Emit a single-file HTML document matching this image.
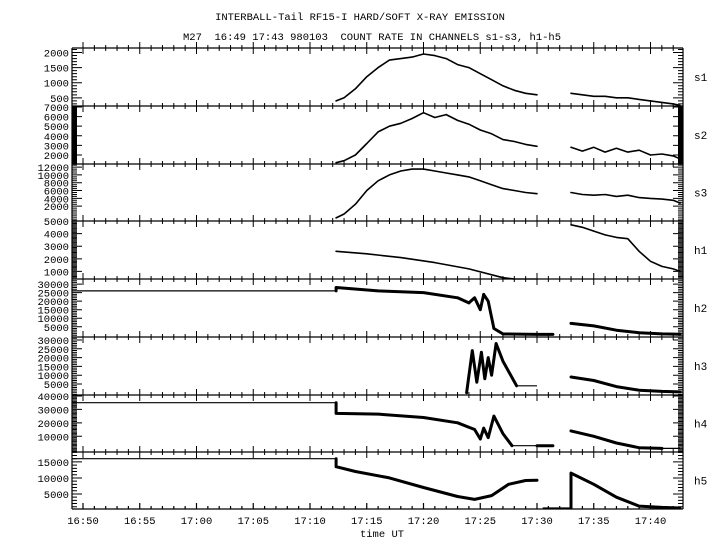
<!DOCTYPE html>
<html><head><meta charset="utf-8">
<style>
html,body{margin:0;padding:0;background:#fff;}
svg{display:block;font-family:"Liberation Mono","DejaVu Sans Mono",monospace;}
</style></head>
<body>
<svg id="chart" width="720" height="550" viewBox="0 0 720 550">
<text x="360" y="20" font-size="10.5" text-anchor="middle">INTERBALL-Tail RF15-I HARD/SOFT X-RAY EMISSION</text>
<text x="372" y="40" font-size="10.5" text-anchor="middle" xml:space="preserve">M27  16:49 17:43 980103  COUNT RATE IN CHANNELS s1-s3, h1-h5</text>
<text x="382" y="537" font-size="10.5" text-anchor="middle">time UT</text>
<g id="plots"></g>
</svg>
<script>
// time in minutes after 16:00
const xTickLabels = ["16:50","16:55","17:00","17:05","17:10","17:15","17:20","17:25","17:30","17:35","17:40"];
const xTickTimes = [50,55,60,65,70,75,80,85,90,95,100];
const channels = ["s1","s2","s3","h1","h2","h3","h4","h5"];
const s1T = [72.3,73,74,75,76,77,78,79,80,81,82,83,84,85,86,87,88,89,90,null,93,94,95,96,97,98,99,100,101,102,102.6];
const s1V = [400,500,800,1200,1500,1750,1800,1850,1950,1900,1800,1600,1500,1300,1100,900,750,650,600,null,650,600,550,550,500,500,450,400,350,300,250];
const s2T = s1T;
const s2V = [1200,1400,2000,3200,4400,5000,5300,5800,6400,5900,6200,5600,5200,4600,4200,3600,3400,3100,2900,null,2800,2400,2800,2300,2700,2300,2500,2000,2100,1900,1600];
const s3T = s1T;
const s3V = [-1000,0,2500,6000,8500,10000,11000,11500,11500,11000,10500,10000,9500,8500,7500,6500,6000,5500,5200,null,5500,5000,4800,5000,4500,4800,4200,4000,3800,3500,2800];
const h1T = [72.3,75,78,81,84,87,88,90,null,93,94,95,96,97,98,99,100,101,102,102.6];
const h1V = [2600,2400,2100,1700,1200,500,300,300,null,4700,4500,4200,3900,3700,3600,2600,1800,1400,1200,1000];
const h2T = [49.04,72.3,72.3,76,80,83,84,84.5,85,85.3,85.7,86.2,87,90,91.4,null,93,95,97,99,101,102.6];
const h2V = [26000,26000,28000,26000,25000,22000,19000,22000,15000,24000,20000,4000,800,500,500,null,7000,5500,3000,1500,800,600];
const h3T = [83.8,84.3,84.7,85.1,85.4,85.7,86,86.4,87,88.2,90,null,93,95,97,99,101,102.6];
const h3V = [0,24000,6000,23000,8000,20000,10000,28000,18000,4000,4000,null,9000,7000,3500,1500,800,500];
const h4T = [49.04,72.3,72.3,76,80,83,84.5,85,85.3,85.7,86.2,87,87.8,90,91.4,null,93,95,97,99,101,102.6];
const h4V = [35000,35000,27000,26500,24000,20000,15000,8000,16000,9000,25000,12000,3000,3000,3000,null,14000,10000,5000,1500,1000,1000];
const h5T = [49.04,72.3,72.3,74,77,80,83,84.5,86,87.5,89,90,null,90.5,93,93,95,97,99,101,102.6];
const h5V = [16000,16000,13500,12000,10000,7000,4200,3300,4500,8000,9200,9300,null,600,600,11500,8000,4000,1200,800,600];
const seriesT = [s1T,s2T,s3T,h1T,h2T,h3T,h4T,h5T];
const seriesV = [s1V,s2V,s3V,h1V,h2V,h3V,h4V,h5V];
const yMin = [230,1060,-1800,400,-1000,-1250,-1700,300];
const yMax = [2150,7100,12800,5000,33000,31700,40700,18100];
const yTicks = [[2000,1500,1000,500],[7000,6000,5000,4000,3000,2000],[12000,10000,8000,6000,4000,2000],[5000,4000,3000,2000,1000],[30000,25000,20000,15000,10000,5000],[30000,25000,20000,15000,10000,5000],[40000,30000,20000,10000],[15000,10000,5000]];
const minorStep = [100,100,500,100,1000,1000,1000,1000];

const L=72, R=683;
const panelTop = [48,106,164,221,279,337,395,452,509];
const strokeW = [1.6,1.6,1.6,1.6,3,3,3,3];
const NS="http://www.w3.org/2000/svg";
const g=document.getElementById('plots');
function xs(t){return 83+(t-50)*11.35;}
function mk(tag,attrs){const e=document.createElementNS(NS,tag);for(const k in attrs)e.setAttribute(k,attrs[k]);return e;}

for(let p=0;p<8;p++){
  const top=panelTop[p], bot=panelTop[p+1];
  const ys=v=>bot-(v-yMin[p])/(yMax[p]-yMin[p])*(bot-top);
  const pg=mk('g',{});
  
  
  g.appendChild(pg);
  const fr=mk('path',{d:`M${L},${top}V${bot}M${R},${top}V${bot}M${L},${top}H${R}`,stroke:'#000','stroke-width':1.2,fill:'none'});
  
  
  pg.appendChild(fr);
  let d='';
  const lo=Math.ceil(yMin[p]/minorStep[p])*minorStep[p];
  for(let v=lo;v<=yMax[p];v+=minorStep[p]){const y=ys(v);if(y<top||y>bot)continue;d+=`M${L},${y}h5M${R},${y}h-5`;}
  for(const v of yTicks[p]){const y=ys(v);if(y<top-1||y>bot)continue;d+=`M${L},${y}h10M${R},${y}h-10`;}
  const tk=mk('path',{d:d,stroke:'#000','stroke-width':1,fill:'none'});
  
  
  pg.appendChild(tk);
  let dx='';
  for(let t=50;t<=102;t++){const x=xs(t);const big=(t%5===0);dx+=`M${x},${top-(big?6:3)}v${big?12:6}`;}
  const xt=mk('path',{d:dx,stroke:'#000','stroke-width':1,fill:'none'});
  
  
  pg.appendChild(xt);
  for(const v of yTicks[p]){
    const y=ys(v); if(y<top-3||y>bot)continue;
    const tx=mk('text',{x:69,y:y+4,'font-size':10.5,'text-anchor':'end'});
    tx.textContent=v;
    
    
    pg.appendChild(tx);
  }
  const cl=mk('text',{x:694,y:(top+bot)/2+4,'font-size':11});
  cl.textContent=channels[p];
  
  
  pg.appendChild(cl);
  // series: thin for long flat stretches, thick elsewhere
  const T=seriesT[p], V=seriesV[p];
  let thick='', thin='';
  for(let i=1;i<T.length;i++){
    if(T[i]===null||T[i-1]===null)continue;
    const y0=Math.max(top,Math.min(bot,ys(V[i-1]))), y1=Math.max(top,Math.min(bot,ys(V[i])));
    const seg=`M${xs(T[i-1]).toFixed(1)},${y0.toFixed(1)}L${xs(T[i]).toFixed(1)},${y1.toFixed(1)}`;
    if(V[i]===V[i-1] && T[i]-T[i-1]>1.5) thin+=seg; else thick+=seg;
  }
  const ln=mk('path',{d:thick,stroke:'#000','stroke-width':strokeW[p],fill:'none','stroke-linejoin':'round','stroke-linecap':'round'});
  
  
  pg.appendChild(ln);
  if(thin){
    const ln2=mk('path',{d:thin,stroke:'#000','stroke-width':1.2,fill:'none'});
    
    
    pg.appendChild(ln2);
  }
}
const bot=panelTop[8];
let db=`M${L},${bot}H${R}`;
for(let t=50;t<=102;t++){const x=xs(t);db+=`M${x},${bot}v${t%5===0?-6:-3}`;}
const ba=mk('path',{d:db,stroke:'#000','stroke-width':1.2,fill:'none'});


g.appendChild(ba);
for(let i=0;i<xTickLabels.length;i++){
  const tx=mk('text',{x:xs(xTickTimes[i]),y:524,'font-size':10.5,'text-anchor':'middle'});
  tx.textContent=xTickLabels[i];
  
  
  g.appendChild(tx);
}
</script>
</body></html>
